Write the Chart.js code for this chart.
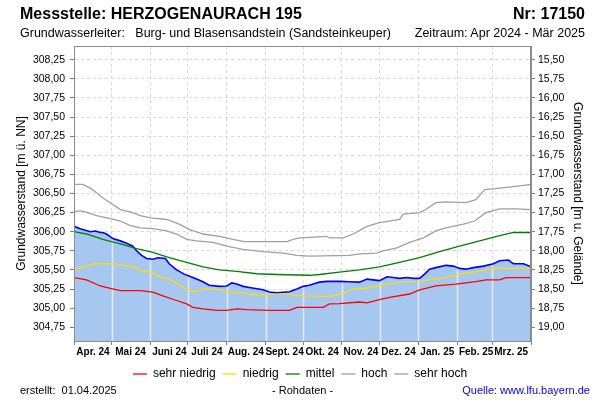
<!doctype html>
<html lang="de">
<head>
<meta charset="utf-8" />
<title>Messstelle HERZOGENAURACH 195</title>
<script src="https://cdn.jsdelivr.net/npm/chart.js@4.4.4/dist/chart.umd.min.js"></script>
<style>
  body { margin: 0; background: #fff; }
  #wrap { position: relative; width: 600px; height: 400px; font-family: "Liberation Sans", Arial, sans-serif; color: #000; }
  #wrap canvas { position: absolute; left: 0; top: 0; }
  .t { position: absolute; white-space: pre; line-height: 1; }
  .big { font-size: 16px; font-weight: bold; top: 6px; }
  .sub { font-size: 12.5px; top: 27px; }
  .foot { font-size: 11px; top: 385px; }
</style>
</head>
<body>
<div id="wrap">
  <canvas id="c" width="600" height="400"></canvas>
  <div class="t big" style="left:20px">Messstelle: HERZOGENAURACH 195</div>
  <div class="t big" style="right:15px">Nr: 17150</div>
  <div class="t sub" style="left:20px">Grundwasserleiter:   Burg- und Blasensandstein (Sandsteinkeuper)</div>
  <div class="t sub" style="right:15px">Zeitraum: Apr 2024 - Mär 2025</div>
  <div class="t foot" style="left:20px">erstellt:  01.04.2025</div>
  <div class="t foot" style="left:272px">- Rohdaten -</div>
  <div class="t foot" style="right:10px;color:#0000ff">Quelle: www.lfu.bayern.de</div>
</div>
<script>
// days since 01.04.2024, levels in m ü. NN
const monthStarts = [0, 30, 61, 91, 122, 153, 183, 214, 244, 275, 306, 334, 365];
const monthLabels = ["Apr. 24", "Mai 24", "Juni 24", "Juli 24", "Aug. 24", "Sept. 24", "Okt. 24", "Nov. 24", "Dez. 24", "Jan. 25", "Feb. 25", "Mrz. 25"];
const leftTicks = [304.75, 305.0, 305.25, 305.5, 305.75, 306.0, 306.25, 306.5, 306.75, 307.0, 307.25, 307.5, 307.75, 308.0, 308.25];
const rightTicks = [15.5, 15.75, 16.0, 16.25, 16.5, 16.75, 17.0, 17.25, 17.5, 17.75, 18.0, 18.25, 18.5, 18.75, 19.0];
const gelaende = 323.75;

const messTage = [0, 5, 9, 13, 17, 21, 23, 26, 31, 37, 42, 47, 50, 54, 58, 63, 67, 73, 76, 82, 88, 95, 103, 108, 116, 122, 126, 130, 135, 140, 151, 156, 162, 172, 178, 183, 188, 191, 196, 202, 212, 220, 228, 234, 239, 244, 250, 255, 260, 266, 271, 276, 280, 284, 289, 297, 303, 308, 313, 319, 327, 335, 340, 347, 351, 359, 365];
const messWerte = [306.07, 306.04, 306.02, 306.00, 306.01, 305.99, 305.99, 305.97, 305.91, 305.88, 305.85, 305.81, 305.75, 305.69, 305.65, 305.64, 305.66, 305.65, 305.58, 305.50, 305.445, 305.40, 305.345, 305.30, 305.285, 305.29, 305.33, 305.315, 305.285, 305.27, 305.24, 305.21, 305.20, 305.215, 305.25, 305.285, 305.30, 305.315, 305.34, 305.35, 305.35, 305.346, 305.34, 305.38, 305.37, 305.36, 305.41, 305.40, 305.39, 305.40, 305.39, 305.39, 305.445, 305.51, 305.53, 305.56, 305.55, 305.52, 305.51, 305.53, 305.55, 305.58, 305.62, 305.63, 305.58, 305.58, 305.54];

const sehrHochTage = [0, 7, 13, 18, 23, 29, 37, 45, 53, 61, 74, 84, 92, 103, 116, 127, 136, 170, 175, 180, 202, 204, 215, 223, 234, 244, 260, 263, 276, 281, 289, 297, 313, 321, 328, 340, 356, 365];
const sehrHochWerte = [306.62, 306.62, 306.57, 306.51, 306.44, 306.38, 306.29, 306.26, 306.21, 306.18, 306.16, 306.10, 306.03, 305.97, 305.94, 305.90, 305.87, 305.87, 305.90, 305.92, 305.94, 305.92, 305.92, 305.97, 306.07, 306.12, 306.16, 306.23, 306.25, 306.29, 306.38, 306.39, 306.38, 306.42, 306.55, 306.57, 306.60, 306.62];

const hochTage = [0, 7, 18, 29, 37, 45, 53, 63, 74, 82, 90, 98, 111, 122, 135, 151, 167, 178, 188, 220, 228, 242, 247, 258, 268, 279, 289, 297, 311, 320, 329, 340, 353, 365];
const hochWerte = [306.27, 306.27, 306.21, 306.17, 306.14, 306.08, 306.05, 306.04, 306.01, 305.97, 305.90, 305.88, 305.86, 305.81, 305.77, 305.74, 305.72, 305.69, 305.68, 305.69, 305.71, 305.72, 305.75, 305.79, 305.86, 305.92, 306.01, 306.05, 306.10, 306.14, 306.25, 306.30, 306.30, 306.29];

const mittelTage = [0, 10, 23, 37, 50, 63, 76, 90, 103, 116, 130, 146, 162, 188, 196, 212, 228, 244, 260, 276, 292, 308, 324, 340, 351, 365];
const mittelWerte = [306.00, 305.97, 305.90, 305.84, 305.78, 305.73, 305.66, 305.60, 305.54, 305.50, 305.48, 305.45, 305.44, 305.43, 305.44, 305.47, 305.50, 305.54, 305.60, 305.66, 305.74, 305.81, 305.88, 305.95, 305.99, 305.99];

const niedrigTage = [0, 7, 15, 34, 42, 50, 53, 61, 69, 79, 87, 96, 103, 114, 124, 138, 148, 167, 180, 204, 215, 223, 234, 242, 250, 260, 276, 287, 297, 305, 313, 324, 335, 365];
const niedrigWerte = [305.51, 305.53, 305.58, 305.58, 305.55, 305.53, 305.49, 305.47, 305.41, 305.36, 305.27, 305.21, 305.25, 305.25, 305.21, 305.19, 305.17, 305.19, 305.16, 305.155, 305.19, 305.25, 305.26, 305.29, 305.315, 305.34, 305.35, 305.38, 305.40, 305.43, 305.46, 305.48, 305.52, 305.52];

const sehrNiedrigTage = [0, 10, 21, 29, 37, 53, 63, 71, 82, 90, 95, 103, 114, 122, 130, 138, 156, 172, 178, 199, 204, 212, 228, 234, 244, 252, 268, 276, 289, 305, 321, 329, 340, 345, 365];
const sehrNiedrigWerte = [305.40, 305.37, 305.29, 305.26, 305.23, 305.23, 305.21, 305.16, 305.10, 305.055, 305.01, 304.99, 304.97, 304.97, 304.99, 304.98, 304.97, 304.97, 305.01, 305.01, 305.055, 305.06, 305.08, 305.07, 305.11, 305.14, 305.185, 305.24, 305.29, 305.315, 305.346, 305.37, 305.37, 305.40, 305.40];

const Y_MIN = 304.57, Y_MAX = 308.43;
const FONT = "'Liberation Sans', Arial, sans-serif";

function pts(tage, werte) {
  return tage.map((t, i) => ({ x: t, y: werte[i] }));
}
function komma(v) {
  return v.toFixed(2).replace(".", ",");
}
function line(label, tage, werte, color) {
  return { label, data: pts(tage, werte), borderColor: color, backgroundColor: color, borderWidth: 1.3, pointRadius: 0, tension: 0, fill: false };
}

// solid light month lines inside the filled area, dashed grid elsewhere
const monthLines = {
  id: "monthLines",
  beforeDatasetsDraw(chart) {
    const { ctx, chartArea, scales } = chart;
    const p = chart.getDatasetMeta(5).data;
    if (!p.length) return;
    ctx.save();
    ctx.beginPath();
    ctx.moveTo(p[0].x, chartArea.bottom);
    p.forEach((e) => ctx.lineTo(e.x, e.y + 1));
    ctx.lineTo(p[p.length - 1].x, chartArea.bottom);
    ctx.closePath();
    ctx.clip();
    ctx.strokeStyle = "#e6e6e6";
    ctx.lineWidth = 1.5;
    monthStarts.slice(1, -1).forEach((m) => {
      const x = Math.round(scales.x.getPixelForValue(m)) + 0.5;
      ctx.beginPath();
      ctx.moveTo(x, chartArea.top);
      ctx.lineTo(x, chartArea.bottom);
      ctx.stroke();
    });
    ctx.restore();
  },
  afterDatasetsDraw(chart) {
    const { ctx, chartArea: a } = chart;
    ctx.save();
    ctx.strokeStyle = "#8c8c8c";
    ctx.lineWidth = 1;
    ctx.strokeRect(Math.round(a.left) + 0.5, Math.round(a.top) + 0.5, Math.round(a.right - a.left) - 1, Math.round(a.bottom - a.top));
    ctx.restore();
  },
};

new Chart(document.getElementById("c"), {
  type: "line",
  data: {
    datasets: [
      line("sehr niedrig", sehrNiedrigTage, sehrNiedrigWerte, "#ff0000"),
      line("niedrig", niedrigTage, niedrigWerte, "#ffdd00"),
      line("mittel", mittelTage, mittelWerte, "#008000"),
      line("hoch", hochTage, hochWerte, "#a0a0a0"),
      line("sehr hoch", sehrHochTage, sehrHochWerte, "#a0a0a0"),
      {
        label: "Messwerte",
        data: pts(messTage, messWerte),
        borderColor: "#0000ff",
        backgroundColor: "rgb(166,200,240)",
        borderWidth: 1.6,
        pointRadius: 0,
        tension: 0,
        fill: "start",
      },
    ],
  },
  options: {
    responsive: false,
    animation: false,
    devicePixelRatio: 1,
    layout: { padding: { top: 46, bottom: 10, left: 0, right: 0 } },
    scales: {
      x: {
        type: "linear",
        min: 0,
        max: 365,
        afterBuildTicks: (s) => { s.ticks = monthStarts.map((v) => ({ value: v })); },
        afterFit: (s) => { s.height = 20; },
        ticks: {
          autoSkip: false,
          maxRotation: 0,
          labelOffset: 19,
          padding: 1,
          color: "#000",
          font: { family: FONT, size: 10, weight: "bold" },
          callback: (v, i) => monthLabels[i] || "",
        },
        grid: { color: "#d9d9d9", tickColor: "#808080", tickLength: 4 },
        border: { color: "#8c8c8c", dash: [3, 3] },
      },
      y: {
        position: "left",
        min: Y_MIN,
        max: Y_MAX,
        afterBuildTicks: (s) => { s.ticks = leftTicks.map((v) => ({ value: v })); },
        afterFit: (s) => { s.width = 74; },
        ticks: { color: "#000", padding: 5, font: { family: FONT, size: 10.5 }, callback: (v) => komma(v) },
        grid: { color: "#d9d9d9", tickColor: "#808080", tickLength: 4 },
        border: { color: "#8c8c8c", dash: [3, 3] },
        title: { display: true, text: "Grundwasserstand [m ü. NN]", color: "#000", font: { family: FONT, size: 12 }, padding: { top: 14, bottom: 0 } },
      },
      y2: {
        position: "right",
        reverse: true,
        min: gelaende - Y_MAX,
        max: gelaende - Y_MIN,
        afterBuildTicks: (s) => { s.ticks = rightTicks.map((v) => ({ value: v })); },
        afterFit: (s) => { s.width = 69; },
        ticks: { color: "#000", padding: 3, font: { family: FONT, size: 10.5 }, callback: (v) => komma(v) },
        grid: { drawOnChartArea: false, tickColor: "#808080", tickLength: 4 },
        border: { color: "#8c8c8c" },
        title: { display: true, text: "Grundwasserstand [m u. Gelände]", color: "#000", font: { family: FONT, size: 12 }, padding: { top: 15, bottom: 0 } },
      },
    },
    plugins: {
      filler: { drawTime: "beforeDatasetsDraw" },
      tooltip: { enabled: false },
      legend: {
        position: "bottom",
        labels: {
          filter: (item) => item.datasetIndex < 5,
          usePointStyle: true,
          pointStyle: "line",
          pointStyleWidth: 14,
          padding: 7,
          color: "#000",
          font: { family: FONT, size: 12 },
        },
      },
    },
  },
  plugins: [monthLines],
});
</script>
</body>
</html>
